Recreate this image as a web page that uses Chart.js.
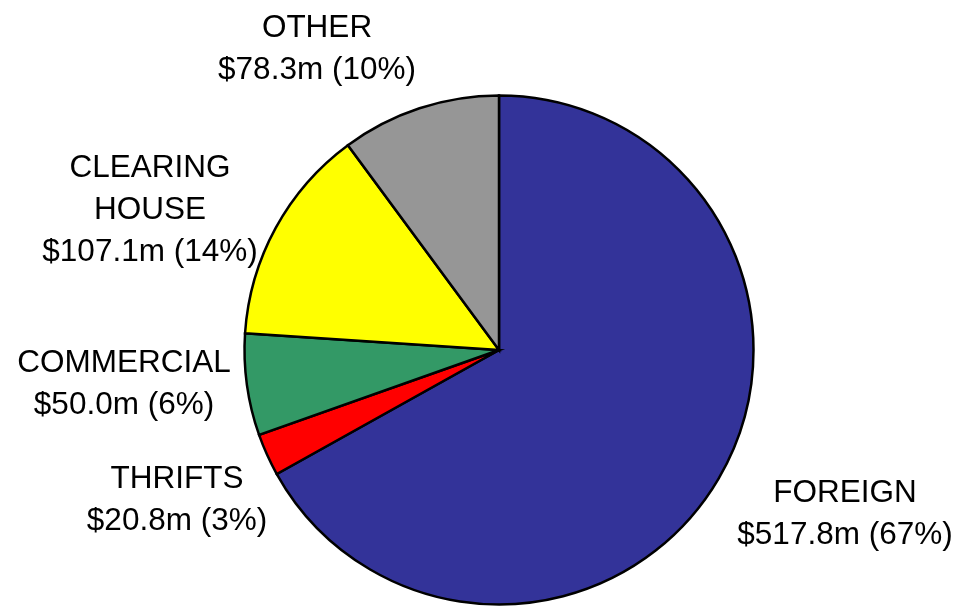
<!DOCTYPE html>
<html>
<head>
<meta charset="utf-8">
<script src="https://cdn.jsdelivr.net/npm/chart.js@4.4.1/dist/chart.umd.min.js"></script>
<style>
    html, body {
        margin: 0;
        padding: 0;
        background: #ffffff;
    }

    #depositChart {
        display: block;
    }
</style>
</head>
<body>
<canvas id="depositChart" width="961" height="607"></canvas>
<script>
const categories = [["FOREIGN"], ["THRIFTS"], ["COMMERCIAL"], ["CLEARING", "HOUSE"], ["OTHER"]];
const amounts = [517.8, 20.8, 50.0, 107.1, 78.3];
const sliceColors = ["#333399", "#ff0000", "#339966", "#ffff00", "#969696"];

// label placement relative to the pie centre (x, first baseline)
const labelOffsets = [
    [346, 152],
    [-322, 138],
    [-375, 22],
    [-349, -173],
    [-182, -313],
];

const total = amounts.reduce((a, b) => a + b, 0);

const outsideLabels = {
    id: "outsideLabels",
    afterDraw(chart) {
        const { ctx } = chart;
        const arcs = chart.getDatasetMeta(0).data;

        ctx.save();
        ctx.fillStyle = "#000000";
        ctx.font = "31.5px 'Liberation Sans', Arial, sans-serif";
        ctx.textAlign = "center";
        ctx.textBaseline = "alphabetic";

        arcs.forEach((arc, i) => {
            const pct = Math.round((amounts[i] / total) * 100);
            const lines = [...categories[i], "$" + amounts[i].toFixed(1) + "m (" + pct + "%)"];
            const x = arc.x + labelOffsets[i][0];
            let y = arc.y + labelOffsets[i][1];

            lines.forEach((line) => {
                ctx.fillText(line, x, y);
                y += 42;
            });
        });

        ctx.restore();
    },
};

new Chart(document.getElementById("depositChart"), {
    type: "pie",

    data: {
        labels: categories,

        datasets: [
            {
                data: amounts,
                backgroundColor: sliceColors,
                borderColor: "#000000",
                borderWidth: 2.5,
                borderJoinStyle: "miter",
            },
        ],
    },

    options: {
        responsive: false,
        animation: false,
        radius: 254.5,

        layout: {
            padding: { left: 240, right: 203, top: 93, bottom: 0 },
        },

        plugins: {
            legend: { display: false },
            tooltip: { enabled: false },
        },
    },

    plugins: [outsideLabels],
});
</script>
</body>
</html>
